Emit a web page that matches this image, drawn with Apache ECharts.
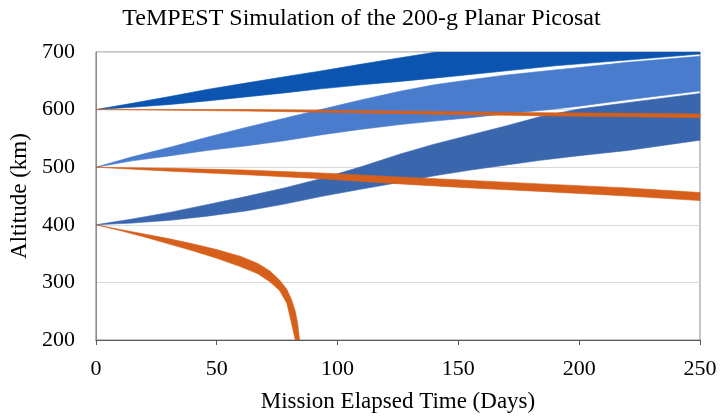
<!DOCTYPE html>
<html>
<head>
<meta charset="utf-8">
<script src="https://cdn.jsdelivr.net/npm/echarts@6/dist/echarts.min.js"></script>
<style>
  html, body { margin: 0; padding: 0; background: #ffffff; }
  #chart { width: 723px; height: 418px; }
</style>
</head>
<body>
<div id="chart"></div>
<script>
// Altitude envelopes (km) vs. mission elapsed time (days).
// Blue bands: planar picosat raising its orbit from 400, 500 and 600 km.
// Orange bands: the same craft decaying from those starting altitudes.

const xTicks = [0, 50, 100, 150, 200, 250];
const yTicks = [200, 300, 400, 500, 600, 700];

// Raising from 600 km
const rise600Days  = [0, 15, 31, 46, 62, 78, 93, 110, 126, 141, 160, 190, 220, 250];
const rise600Upper = [600, 611, 623, 635, 646, 657, 667, 679, 690, 700, 711, 726, 739, 750];
const rise600Lower = [600, 604, 609, 615, 622, 629, 636, 643, 649, 655, 663, 676, 686, 696.5];

// Raising from 500 km
const rise500Days  = [0, 15, 31, 46, 62, 78, 93, 110, 126, 140, 155, 170, 188, 200, 220, 250];
const rise500Upper = [500, 518, 535, 552, 569, 585, 600, 617, 632, 643, 652, 660, 668, 673, 682, 692.5];
const rise500Lower = [500, 511, 520, 529, 537, 546, 556, 566, 574, 580, 586, 593, 600, 606, 617, 632.5];

// Raising from 400 km
const rise400Days  = [0, 15, 31, 46, 62, 78, 93, 110, 126, 140, 155, 170, 184, 200, 220, 250];
const rise400Upper = [400, 410, 422, 435, 449, 464, 480, 501, 523, 540, 556, 572, 588, 601, 612, 628];
const rise400Lower = [400, 403, 408, 415, 424, 436, 449, 462, 474, 485, 495, 504, 512, 520, 529, 547];

// Decay from 600 km
const decay600Days  = [0, 31, 62, 93, 126, 155, 188, 220, 250];
const decay600Upper = [600, 600, 600, 599, 597.5, 596, 594.5, 593.5, 592.5];
const decay600Lower = [600, 599, 597.5, 595.5, 593, 591, 589, 587.5, 586];

// Decay from 500 km
const decay500Days  = [0, 31, 62, 93, 126, 155, 184, 220, 250];
const decay500Upper = [500, 498, 495, 490, 483, 477, 471, 464, 456];
const decay500Lower = [500, 493, 487, 480, 471, 464, 458, 450, 442];

// Decay from 400 km (re-entry)
const decay400Days  = [0, 10, 20, 30, 40, 50, 60, 67, 72, 76, 79, 81, 82.5, 83.5, 84.3];
const decay400Upper = [400, 392, 384, 376, 367, 357, 345, 333, 320, 304, 288, 270, 250, 229, 200];
const decay400Lower = [400, 390, 379, 367, 355, 342, 327, 315, 301, 286, 264, 228, 200, 200, 200];

const BLUE_DARK = '#0b55b0';
const BLUE_MID = '#4a7ccd';
const BLUE_STEEL = '#3a66ae';
const ORANGE = '#d65f1b';

const SERIF = '"Liberation Serif", "Times New Roman", serif';

// One filled polygon per band: upper edge left-to-right, lower edge back.
function band(name, days, upper, lower, color, z) {
  return {
    name: name,
    type: 'custom',
    coordinateSystem: 'cartesian2d',
    clip: true,
    silent: true,
    z: z,
    data: [[days[0], upper[0]]],
    renderItem: function (params, api) {
      const pts = [];
      for (let i = 0; i < days.length; i++) pts.push(api.coord([days[i], upper[i]]));
      for (let i = days.length - 1; i >= 0; i--) pts.push(api.coord([days[i], lower[i]]));
      return {
        type: 'polygon',
        shape: { points: pts },
        style: { fill: color, stroke: color, lineWidth: 0.6, lineJoin: 'round' }
      };
    }
  };
}

const chart = echarts.init(document.getElementById('chart'), null, { renderer: 'canvas' });

chart.setOption({
  animation: false,
  backgroundColor: '#ffffff',
  title: {
    text: 'TeMPEST Simulation of the 200-g Planar Picosat',
    left: 'center',
    top: 2,
    textStyle: { fontFamily: SERIF, fontSize: 24, fontWeight: 'normal', color: '#000000' }
  },
  grid: {
    left: 95, right: 23, top: 52, bottom: 76.5,
    show: true, borderColor: '#8c8c8c', borderWidth: 1
  },
  xAxis: {
    type: 'value',
    min: xTicks[0], max: xTicks[xTicks.length - 1],
    interval: xTicks[1] - xTicks[0],
    name: 'Mission Elapsed Time (Days)',
    nameLocation: 'middle',
    nameGap: 50,
    nameTextStyle: { fontFamily: SERIF, fontSize: 23, color: '#000000' },
    axisLine: { show: true, lineStyle: { color: '#595959', width: 1.2 } },
    axisTick: { show: true, inside: false, length: 5, lineStyle: { color: '#595959' } },
    axisLabel: { fontFamily: SERIF, fontSize: 22, color: '#000000', margin: 18 },
    splitLine: { show: false }
  },
  yAxis: {
    type: 'value',
    min: yTicks[0], max: yTicks[yTicks.length - 1],
    interval: yTicks[1] - yTicks[0],
    name: 'Altitude (km)',
    nameLocation: 'middle',
    nameGap: 61,
    nameRotate: 90,
    nameTextStyle: { fontFamily: SERIF, fontSize: 23, color: '#000000' },
    axisLine: { show: true, lineStyle: { color: '#8c8c8c', width: 1 } },
    axisTick: { show: false },
    axisLabel: { fontFamily: SERIF, fontSize: 22, color: '#000000', margin: 21 },
    splitLine: { show: true, lineStyle: { color: '#d9d9d9', width: 1 } }
  },
  series: [
    band('Raise 600 km', rise600Days, rise600Upper, rise600Lower, BLUE_DARK, 2),
    band('Raise 500 km', rise500Days, rise500Upper, rise500Lower, BLUE_MID, 2),
    band('Raise 400 km', rise400Days, rise400Upper, rise400Lower, BLUE_STEEL, 2),
    band('Decay 600 km', decay600Days, decay600Upper, decay600Lower, ORANGE, 3),
    band('Decay 500 km', decay500Days, decay500Upper, decay500Lower, ORANGE, 3),
    band('Decay 400 km', decay400Days, decay400Upper, decay400Lower, ORANGE, 3)
  ]
});
</script>
</body>
</html>
